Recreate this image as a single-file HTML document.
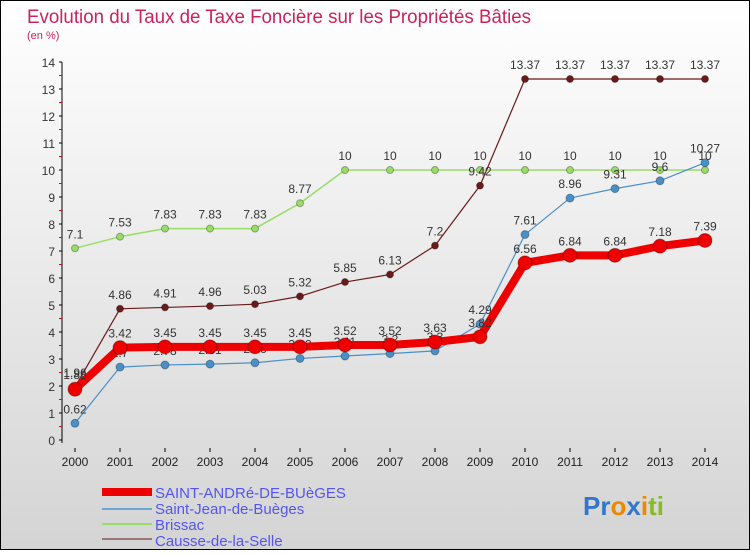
<!DOCTYPE html>
<html><head><meta charset="utf-8"><style>
body{margin:0;width:750px;height:550px;overflow:hidden;font-family:"Liberation Sans",sans-serif}
#wrap{position:relative;width:748px;height:548px;border:1px solid #000;background:linear-gradient(#ffffff,#d4d4d4)}
</style></head><body>
<div id="wrap">
<svg id="chart" width="748" height="548">
<text x="26" y="22" font-size="19" fill="#c8245a" font-family="Liberation Sans Narrow, Liberation Sans, sans-serif" textLength="504" lengthAdjust="spacingAndGlyphs">Evolution du Taux de Taxe Foncière sur les Propriétés Bâties</text>
<text x="26" y="38" font-size="11" fill="#c8245a">(en %)</text>
<g id="axes"></g><g id="series"></g>
<g>
<rect x="101" y="487" width="50" height="8" fill="#ee0000"/>
<text x="154" y="497" font-size="15" fill="#5555ee">SAINT-ANDRé-DE-BUèGES</text>
<rect x="101" y="507" width="50" height="2" fill="#6aa6d6"/>
<text x="154" y="513" font-size="15" fill="#5555ee">Saint-Jean-de-Buèges</text>
<rect x="101" y="522" width="50" height="2" fill="#99dd66"/>
<text x="154" y="529" font-size="15" fill="#5555ee">Brissac</text>
<rect x="101" y="537" width="50" height="2" fill="#997777"/>
<text x="154" y="545" font-size="15" fill="#5555ee">Causse-de-la-Selle</text>
</g>
<text x="582" y="514" font-size="26" font-weight="bold"><tspan fill="#3377cc">Pr</tspan><tspan fill="#ee8800">o</tspan><tspan fill="#3377cc">x</tspan><tspan fill="#ee8800">i</tspan><tspan fill="#88bb22">ti</tspan></text>
</svg></div>
<script>
const years=["2000","2001","2002","2003","2004","2005","2006","2007","2008","2009","2010","2011","2012","2013","2014"];
const yTicks=[0,1,2,3,4,5,6,7,8,9,10,11,12,13,14];
const saintAndre=[1.88,3.42,3.45,3.45,3.45,3.45,3.52,3.52,3.63,3.82,6.56,6.84,6.84,7.18,7.39];
const saintJean=[0.62,2.7,2.78,2.81,2.86,3.02,3.11,3.2,3.3,4.29,7.61,8.96,9.31,9.6,10.27];
const brissac=[7.1,7.53,7.83,7.83,7.83,8.77,10,10,10,10,10,10,10,10,10];
const causse=[1.96,4.86,4.91,4.96,5.03,5.32,5.85,6.13,7.2,9.42,13.37,13.37,13.37,13.37,13.37];
const NS="http://www.w3.org/2000/svg";
const X=i=>74+i*45, Y=v=>439-v*27;
function mk(t,a,p){const e=document.createElementNS(NS,t);for(const k in a)e.setAttribute(k,a[k]);p.appendChild(e);return e;}
const ax=document.getElementById('axes'),sg=document.getElementById('series');
const yl=mk('line',{x1:61,y1:Y(14),x2:61,y2:Y(0)+3,stroke:'#000'},ax);


yTicks.forEach(v=>{
 mk('line',{x1:58,x2:61,y1:Y(v),y2:Y(v),stroke:'#000'},ax);
 if(v<14){const r=mk('line',{x1:58,x2:61,y1:Y(v+0.5),y2:Y(v+0.5),stroke:'#e00'},ax);}
 const t=mk('text',{x:54,y:Y(v)+5,'font-size':12,fill:'#333','text-anchor':'end'},ax);t.textContent=v;
 
 
});
years.forEach((y,i)=>{
 mk('line',{x1:X(i),x2:X(i),y1:Y(0)+8,y2:Y(0)+12,stroke:'#000'},ax);
 const t=mk('text',{x:X(i),y:Y(0)+26,'font-size':12,fill:'#222','text-anchor':'middle'},ax);t.textContent=y;
 
 
});
function draw(vals,color,w,r,name,lab){
 const g=mk('g',{},sg);
 
 
 mk('polyline',{points:vals.map((v,i)=>X(i)+','+Y(v)).join(' '),fill:'none',stroke:color,'stroke-width':w,'stroke-linejoin':'round'},g);
 vals.forEach((v,i)=>{
  const c=mk('circle',{cx:X(i),cy:Y(v),r:r,fill:color,stroke:'rgba(0,0,0,0.3)'},g);
  
  
  const t=mk('text',{x:X(i),y:Y(v)-10,'font-size':12,fill:'#333','text-anchor':'middle'},g);t.textContent=String(v);
  
  
 });
}
draw(brissac,'#99dd66',1.5,3.5,'series-brissac');
draw(causse,'#6b1a1a',1.2,3.5,'series-causse');
draw(saintJean,'#4a90c8',1.2,4,'series-saint-jean');
draw(saintAndre,'#ee0000',8,7,'series-saint-andre');
</script>
</body></html>
